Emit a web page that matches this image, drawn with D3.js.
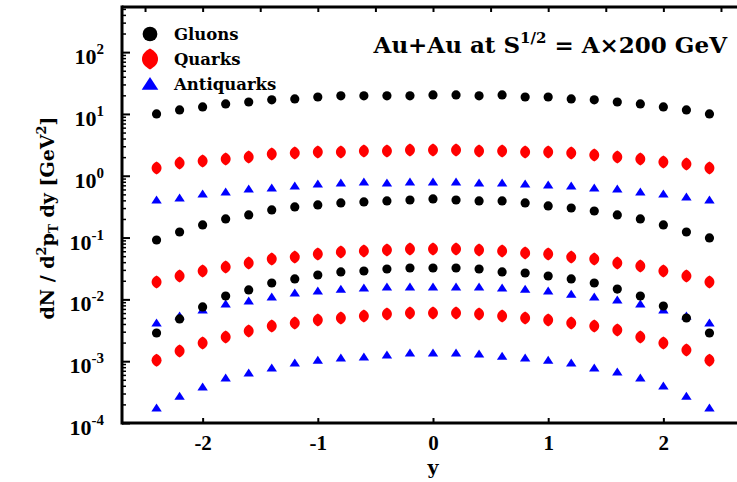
<!DOCTYPE html>
<html>
<head>
<meta charset="utf-8">
<script src="https://cdn.jsdelivr.net/npm/d3@7"></script>
<style>
  html, body { margin: 0; padding: 0; background: #fff; }
  svg { display: block; }
  text { font-family: "Liberation Serif", "DejaVu Serif", serif; font-weight: bold; fill: #000; }
  text.wide { font-family: "DejaVu Serif", serif; }
</style>
</head>
<body>
<svg id="chart" width="737" height="482"></svg>
<script>
// Rapidity grid shared by every series
const rapidity = [-2.4, -2.2, -2.0, -1.8, -1.6, -1.4, -1.2, -1.0, -0.8, -0.6, -0.4, -0.2, 0.0,
                  0.2, 0.4, 0.6, 0.8, 1.0, 1.2, 1.4, 1.6, 1.8, 2.0, 2.2, 2.4];

// dN/d^2pT dy for three transverse-momentum bins (high, middle, low yield)
const gluonsHigh = [10.0, 11.6, 13.0, 14.5, 15.6, 16.9, 17.5, 18.8, 19.6, 19.6, 19.6, 19.6, 20.3,
                    20.3, 19.6, 20.3, 18.8, 18.8, 17.5, 16.9, 15.6, 14.5, 13.0, 11.6, 10.0];
const quarksHigh = [1.34, 1.61, 1.73, 1.87, 2.01, 2.25, 2.34, 2.43, 2.43, 2.52, 2.52, 2.61, 2.61,
                    2.61, 2.52, 2.52, 2.43, 2.43, 2.34, 2.17, 2.01, 1.87, 1.67, 1.55, 1.34];
const antiquarksHigh = [0.405, 0.437, 0.508, 0.547, 0.611, 0.635, 0.684, 0.736, 0.764, 0.794, 0.764, 0.794, 0.794,
                        0.794, 0.764, 0.764, 0.736, 0.710, 0.684, 0.635, 0.611, 0.547, 0.508, 0.454, 0.405];
const gluonsMid = [0.0914, 0.123, 0.160, 0.200, 0.232, 0.280, 0.313, 0.337, 0.363, 0.377, 0.391, 0.405, 0.421,
                   0.405, 0.391, 0.391, 0.363, 0.325, 0.301, 0.269, 0.232, 0.200, 0.160, 0.123, 0.0986];
const quarksMid = [0.0191, 0.0239, 0.0288, 0.0334, 0.0388, 0.0451, 0.0486, 0.0543, 0.0585, 0.0607, 0.0630, 0.0654, 0.0654,
                   0.0654, 0.0630, 0.0607, 0.0564, 0.0543, 0.0486, 0.0451, 0.0388, 0.0347, 0.0288, 0.0239, 0.0191];
const antiquarksMid = [0.00415, 0.00539, 0.00673, 0.00843, 0.00942, 0.01093, 0.0127, 0.0137, 0.0147, 0.0153, 0.0159, 0.0159, 0.0159,
                       0.0159, 0.0159, 0.0153, 0.0147, 0.0137, 0.0122, 0.01093, 0.00978, 0.00843, 0.00673, 0.00539, 0.00415];
const gluonsLow = [0.00286, 0.00482, 0.00754, 0.01135, 0.0142, 0.0184, 0.0214, 0.0248, 0.0278, 0.0288, 0.0310, 0.0322, 0.0322,
                   0.0322, 0.0310, 0.0278, 0.0267, 0.0239, 0.0214, 0.0184, 0.0147, 0.01135, 0.00782, 0.0050, 0.00286];
const quarksLow = [0.00104, 0.00146, 0.00197, 0.00246, 0.00308, 0.00371, 0.00415, 0.00465, 0.0050, 0.00539, 0.00580, 0.00602, 0.00602,
                   0.00602, 0.00580, 0.00539, 0.0050, 0.00465, 0.00415, 0.00371, 0.0032, 0.00246, 0.00197, 0.00152, 0.00104];
const antiquarksLow = [0.000175, 0.000273, 0.000383, 0.000535, 0.000644, 0.000776, 0.000935, 0.00104, 0.00113, 0.00117, 0.00126, 0.00136, 0.00136,
                       0.00136, 0.00131, 0.00121, 0.00113, 0.00104, 0.000935, 0.000776, 0.000668, 0.000535, 0.000397, 0.000273, 0.000175];

const xTicks = [-2, -1, 0, 1, 2];
const yExponents = [2, 1, 0, -1, -2, -3, -4];
const legendLabels = ["Gluons", "Quarks", "Antiquarks"];
const colors = { Gluons: "#000000", Quarks: "#ff0000", Antiquarks: "#0000ff" };

const series = [
  { kind: "Gluons", values: gluonsHigh },
  { kind: "Quarks", values: quarksHigh },
  { kind: "Antiquarks", values: antiquarksHigh },
  { kind: "Gluons", values: gluonsMid },
  { kind: "Quarks", values: quarksMid },
  { kind: "Antiquarks", values: antiquarksMid },
  { kind: "Gluons", values: gluonsLow },
  { kind: "Quarks", values: quarksLow },
  { kind: "Antiquarks", values: antiquarksLow }
];

const svg = d3.select("#chart");
const plotLeft = 122, plotRight = 744, plotTop = 7, plotBottom = 423;

const x = d3.scaleLinear().domain([-2.7, 2.7]).range([plotLeft, plotRight]);
const y = d3.scaleLog().domain([1e-4, Math.pow(10, 2.73)]).range([plotBottom, plotTop]);

// marker shapes, scaled by s
function markerPath(kind, s) {
  const p = d3.path();
  if (kind === "Gluons") {
    p.arc(0, 0, 4.6 * s, 0, 2 * Math.PI);
  } else if (kind === "Quarks") {
    // rounded diamond: a circle drawn out to a point at top and bottom
    const w = 5 * s, h = 6.5 * s;
    p.moveTo(0, -h);
    p.bezierCurveTo(w * 0.6, -h * 0.75, w, -h * 0.45, w, 0);
    p.bezierCurveTo(w, h * 0.45, w * 0.6, h * 0.75, 0, h);
    p.bezierCurveTo(-w * 0.6, h * 0.75, -w, h * 0.45, -w, 0);
    p.bezierCurveTo(-w, -h * 0.45, -w * 0.6, -h * 0.75, 0, -h);
  } else {
    const w = 5.2 * s, h = 8 * s;
    p.moveTo(0, -h * 0.55);
    p.lineTo(w, h * 0.45);
    p.lineTo(-w, h * 0.45);
  }
  p.closePath();
  return p.toString();
}

// data points
series.forEach(sr => {
  svg.append("g")
    .selectAll("path")
    .data(sr.values)
    .join("path")
    .attr("d", markerPath(sr.kind, 1))
    .attr("transform", (v, i) => `translate(${x(rapidity[i])},${y(v)})`)
    .attr("fill", colors[sr.kind]);
});

// frame lines
const axisG = svg.append("g");
axisG.append("line").attr("x1", plotLeft).attr("x2", plotLeft).attr("y1", plotTop - 1.5).attr("y2", plotBottom + 1.5)
  .attr("stroke", "#000").attr("stroke-width", 3);
axisG.append("line").attr("x1", plotLeft).attr("x2", 737).attr("y1", plotBottom).attr("y2", plotBottom)
  .attr("stroke", "#000").attr("stroke-width", 3);
axisG.append("line").attr("x1", plotLeft).attr("x2", 737).attr("y1", plotTop).attr("y2", plotTop)
  .attr("stroke", "#000").attr("stroke-width", 3);

// bottom axis ticks (pointing inward) and labels
const xAxis = d3.axisBottom(x).tickValues(xTicks).tickSizeInner(-5).tickSizeOuter(0).tickFormat(d => d);
const gx = svg.append("g").attr("transform", `translate(0,${plotBottom})`).call(xAxis);
gx.select(".domain").remove();
gx.selectAll(".tick line").attr("stroke", "#000").attr("stroke-width", 2);
gx.selectAll(".tick text")
  .attr("y", 27).attr("dy", 0)
  .style("font-size", "21px").style("font-family", "Liberation Serif, serif").style("font-weight", "bold");

// top axis ticks every half unit
const topTicks = d3.range(-2.5, 2.51, 0.5);
const xTop = d3.axisTop(x).tickValues(topTicks).tickSizeInner(-5).tickSizeOuter(0).tickFormat("");
const gt = svg.append("g").attr("transform", `translate(0,${plotTop})`).call(xTop);
gt.select(".domain").remove();
gt.selectAll(".tick line").attr("stroke", "#000").attr("stroke-width", 2);

// left axis: major ticks per decade, minor ticks at 2..9
const yAxis = d3.axisLeft(y)
  .tickValues(yExponents.map(e => Math.pow(10, e)))
  .tickSizeInner(-8).tickSizeOuter(0).tickFormat("");
const gy = svg.append("g").attr("transform", `translate(${plotLeft},0)`).call(yAxis);
gy.select(".domain").remove();
gy.selectAll(".tick line").attr("stroke", "#000").attr("stroke-width", 2);

const minorVals = [];
for (let e = -4; e <= 2; e++) {
  for (let m = 2; m <= 9; m++) {
    const v = m * Math.pow(10, e);
    if (v <= y.domain()[1]) minorVals.push(v);
  }
}
const yMinor = d3.axisLeft(y).tickValues(minorVals).tickSizeInner(-4).tickSizeOuter(0).tickFormat("");
const gym = svg.append("g").attr("transform", `translate(${plotLeft},0)`).call(yMinor);
gym.select(".domain").remove();
gym.selectAll(".tick line").attr("stroke", "#000").attr("stroke-width", 1.5);

// y tick labels 10^n
const yl = svg.append("g");
yExponents.forEach(e => {
  const t = yl.append("text")
    .attr("x", 104)
    .attr("y", y(Math.pow(10, e)) + 12)
    .attr("text-anchor", "end")
    .style("font-size", "22px");
  t.append("tspan").text("10");
  t.append("tspan").attr("dy", -10).style("font-size", "15px").text(e);
});

// axis titles
svg.append("text")
  .attr("class", "wide")
  .attr("x", x(0)).attr("y", 474)
  .attr("text-anchor", "middle")
  .style("font-size", "19px")
  .text("y");

const yt = svg.append("text")
  .attr("class", "wide")
  .attr("transform", "translate(54,218) rotate(-90)")
  .attr("text-anchor", "middle")
  .style("font-size", "19px");
yt.append("tspan").text("dN / d");
yt.append("tspan").attr("dy", -8).style("font-size", "13px").text("2");
yt.append("tspan").attr("dy", 8).text("p");
yt.append("tspan").attr("dy", 4).style("font-size", "12px").text("T");
yt.append("tspan").attr("dy", -4).text(" dy [GeV");
yt.append("tspan").attr("dy", -8).style("font-size", "13px").text("2");
yt.append("tspan").attr("dy", 8).text("]");

// title
const title = svg.append("text")
  .attr("class", "wide")
  .attr("x", 727).attr("y", 53)
  .attr("text-anchor", "end")
  .style("font-size", "23px");
title.append("tspan").text("Au+Au at S");
title.append("tspan").attr("dy", -10).style("font-size", "15px").text("1/2");
title.append("tspan").attr("dy", 10).text(" = A\u00d7200 GeV");

// legend
const legend = svg.append("g");
legendLabels.forEach((k, i) => {
  const ly = 34 + i * 25;
  legend.append("path")
    .attr("d", markerPath(k, 1.6))
    .attr("transform", `translate(150,${ly})`)
    .attr("fill", colors[k]);
  legend.append("text")
    .attr("class", "wide")
    .attr("x", 174).attr("y", ly + 6)
    .style("font-size", "16.5px")
    .text(k);
});
</script>
</body>
</html>
